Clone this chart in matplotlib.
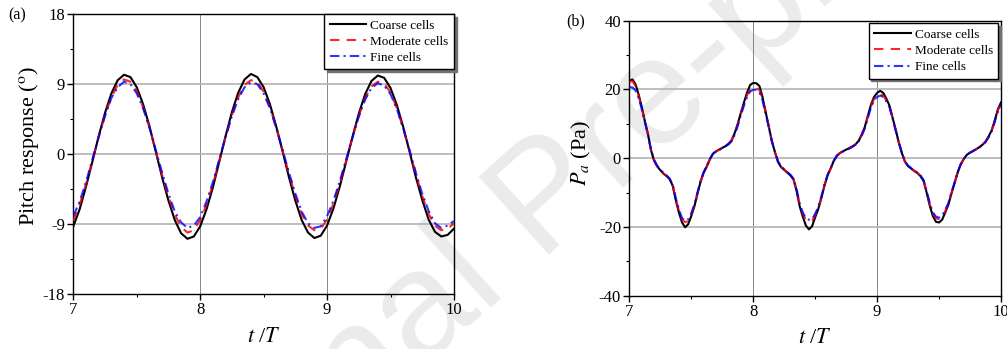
import matplotlib
matplotlib.use("Agg")
import matplotlib.pyplot as plt
import numpy as np

plt.rcParams["font.family"] = ["Liberation Serif", "DejaVu Serif"]
plt.rcParams["mathtext.fontset"] = "stix"
plt.rcParams["axes.unicode_minus"] = False

# (a) pitch response, sampled every 0.05 T from 7 to 10
pitch_coarse = [
    -9.3, -7.1, -4.2, -1.0, 2.3, 5.3, 7.8, 9.5, 10.2, 9.9,
    8.6, 6.4, 3.6, 0.3, -3.0, -6.0, -8.5, -10.2, -10.9, -10.6,
    -9.3, -7.1, -4.3, -1.0, 2.3, 5.4, 7.9, 9.6, 10.3, 9.9,
    8.6, 6.4, 3.5, 0.3, -3.0, -6.0, -8.5, -10.1, -10.8, -10.5,
    -9.2, -7.0, -4.2, -1.0, 2.2, 5.2, 7.7, 9.4, 10.1, 9.8,
    8.5, 6.3, 3.5, 0.3, -3.0, -5.9, -8.4, -10.0, -10.6, -10.4,
    -9.6,
]
pitch_moderate = [
    -8.6, -6.5, -3.9, -0.9, 2.2, 5.0, 7.3, 8.9, 9.6, 9.3,
    8.1, 6.0, 3.4, 0.4, -2.7, -5.5, -7.8, -9.4, -10.1, -9.8,
    -8.5, -6.5, -3.9, -0.9, 2.2, 5.0, 7.3, 8.9, 9.5, 9.3,
    8.0, 6.0, 3.4, 0.4, -2.6, -5.4, -7.7, -9.2, -9.8, -9.6,
    -8.4, -6.4, -3.8, -0.9, 2.1, 4.9, 7.2, 8.7, 9.3, 9.1,
    7.9, 5.9, 3.3, 0.4, -2.6, -5.4, -7.7, -9.2, -9.8, -9.6,
    -8.9,
]
pitch_fine = [
    -8.0, -6.1, -3.6, -0.7, 2.2, 4.9, 7.2, 8.6, 9.3, 9.0,
    7.8, 5.9, 3.4, 0.5, -2.4, -5.1, -7.4, -8.8, -9.5, -9.2,
    -8.1, -6.1, -3.6, -0.7, 2.2, 4.9, 7.1, 8.6, 9.2, 9.0,
    7.8, 5.9, 3.3, 0.5, -2.4, -5.1, -7.4, -8.9, -9.5, -9.3,
    -8.0, -6.0, -3.5, -0.7, 2.1, 4.8, 7.0, 8.5, 9.1, 8.8,
    7.7, 5.8, 3.3, 0.5, -2.4, -5.1, -7.3, -8.9, -9.5, -9.2,
    -8.6,
]

# (b) P_a in Pa, sampled every 0.025 T from 7 to 10
pa_coarse = [
    22.6, 22.9, 21.5, 18.5, 14.9, 10.8, 7.0, 2.3,
    -0.8, -2.4, -3.5, -4.5, -5.2, -6.1, -8.0, -12.3,
    -15.8, -18.7, -20.1, -19.2, -16.8, -14.0, -10.3, -6.8,
    -4.2, -2.4, -0.3, 1.3, 2.0, 2.5, 3.0, 3.5,
    4.2, 5.2, 7.3, 10.0, 13.2, 16.2, 19.1, 21.3,
    21.9, 21.8, 21.0, 17.8, 13.5, 9.3, 5.0, 1.8,
    -1.1, -2.6, -3.4, -4.2, -5.0, -6.2, -9.5, -14.0,
    -17.0, -19.6, -20.7, -19.8, -17.2, -14.8, -11.6, -8.0,
    -5.0, -3.0, -0.8, 0.7, 1.5, 2.0, 2.5, 2.9,
    3.4, 4.0, 5.0, 6.8, 9.0, 12.3, 15.5, 17.8,
    19.0, 19.6, 19.0, 17.3, 15.3, 11.8, 8.3, 4.6,
    1.5, -1.0, -2.3, -3.0, -3.7, -4.3, -5.2, -6.6,
    -10.0, -13.8, -16.8, -18.5, -18.7, -17.9, -15.8, -13.6,
    -10.3, -7.3, -4.2, -1.8, -0.2, 1.0, 1.6, 2.1,
    2.6, 3.2, 3.9, 4.8, 6.3, 8.1, 11.0, 14.2,
    16.2,
]
pa_moderate = [
    22.2, 22.4, 21.0, 18.2, 14.7, 10.7, 6.9, 2.3,
    -0.7, -2.3, -3.4, -4.4, -5.1, -6.0, -8.0, -12.0,
    -15.3, -17.8, -18.6, -18.3, -16.4, -13.8, -10.2, -6.8,
    -4.2, -2.4, -0.3, 1.3, 2.0, 2.5, 3.0, 3.5,
    4.1, 5.1, 7.1, 9.8, 12.9, 15.7, 18.3, 20.0,
    20.5, 20.4, 19.8, 17.2, 13.2, 9.2, 5.0, 1.8,
    -1.0, -2.5, -3.3, -4.1, -4.9, -6.1, -9.3, -13.6,
    -16.2, -18.0, -18.3, -18.2, -16.6, -14.5, -11.4, -7.9,
    -5.0, -3.0, -0.8, 0.7, 1.5, 2.0, 2.5, 2.9,
    3.4, 4.0, 4.9, 6.7, 8.8, 12.0, 15.0, 17.2,
    18.2, 18.6, 18.2, 16.8, 15.0, 11.6, 8.2, 4.6,
    1.5, -1.0, -2.3, -3.0, -3.7, -4.3, -5.1, -6.5,
    -9.8, -13.4, -16.1, -17.5, -17.7, -17.2, -15.4, -13.4,
    -10.2, -7.3, -4.2, -1.8, -0.2, 1.0, 1.6, 2.1,
    2.6, 3.2, 3.9, 4.8, 6.2, 8.0, 10.8, 13.9,
    15.9,
]
pa_fine = [
    20.7, 20.6, 19.7, 17.5, 14.3, 10.5, 6.8, 2.4,
    -0.5, -2.2, -3.3, -4.3, -5.0, -5.9, -7.7, -11.6,
    -14.9, -17.4, -18.2, -17.8, -16.0, -13.4, -9.9, -6.6,
    -4.0, -2.3, -0.3, 1.3, 2.0, 2.4, 2.9, 3.4,
    4.0, 4.9, 6.8, 9.4, 12.5, 15.3, 17.8, 19.4,
    19.9, 19.9, 19.2, 16.8, 13.0, 9.1, 5.0, 1.9,
    -0.9, -2.4, -3.2, -4.0, -4.8, -5.9, -9.0, -13.2,
    -15.8, -17.5, -17.9, -17.7, -16.2, -14.1, -11.1, -7.7,
    -4.9, -2.9, -0.8, 0.7, 1.5, 2.0, 2.4, 2.8,
    3.3, 3.9, 4.8, 6.5, 8.6, 11.7, 14.6, 16.9,
    17.8, 18.2, 17.8, 16.5, 14.8, 11.5, 8.1, 4.6,
    1.6, -0.9, -2.2, -2.9, -3.6, -4.2, -5.0, -6.3,
    -9.5, -13.0, -15.7, -17.0, -17.3, -16.8, -15.0, -13.1,
    -10.0, -7.1, -4.1, -1.8, -0.2, 1.0, 1.6, 2.1,
    2.6, 3.1, 3.8, 4.7, 6.1, 7.8, 10.6, 13.6,
    15.6,
]

labels = ["Coarse cells", "Moderate cells", "Fine cells"]
x_ticks = [7, 8, 9, 10]
pitch_ticks = [-18, -9, 0, 9, 18]
pa_ticks = [-40, -20, 0, 20, 40]


def style_axes(ax, yticks):
    ax.set_facecolor("none")
    ax.set_xlim(7, 10)
    ax.set_ylim(yticks[0], yticks[-1])
    ax.set_xticks(x_ticks)
    ax.set_yticks(yticks)
    ax.set_xticks([7.5, 8.5, 9.5], minor=True)
    step = yticks[1] - yticks[0]
    ax.set_yticks([v + step / 2 for v in yticks[:-1]], minor=True)
    ax.tick_params(which="major", direction="out", length=4, width=1, labelsize=12, pad=2)
    ax.tick_params(which="minor", direction="out", length=2.5, width=0.8)
    for s in ax.spines.values():
        s.set_linewidth(1.0)
    for v in x_ticks[1:-1]:
        ax.axvline(v, color="0.45", lw=0.6, zorder=0.5)
    for v in yticks[1:-1]:
        ax.axhline(v, color="0.7", lw=1.2, zorder=0.5)


def draw_series(ax, series):
    coarse, moderate, fine = series
    ax.plot(np.linspace(7, 10, len(coarse)), coarse, color="black", lw=1.5,
            label=labels[0], zorder=3)
    ax.plot(np.linspace(7, 10, len(moderate)), moderate, color="red", lw=1.5,
            dashes=(4.5, 3.5), alpha=0.85, label=labels[1], zorder=4)
    ax.plot(np.linspace(7, 10, len(fine)), fine, color="blue", lw=1.5,
            dashes=(4.5, 2, 1, 2), alpha=0.8, label=labels[2], zorder=5)


fig = plt.figure(figsize=(10.07, 3.49), dpi=100)

# faint diagonal watermark sitting behind both panels
fig.text(0.545, 0.42, "Journal Pre-proof", rotation=42, fontsize=110,
         color="#ebebeb", ha="center", va="center", family="Liberation Sans",
         zorder=-1)

ax1 = fig.add_axes([0.0728, 0.1576, 0.378, 0.802])
ax2 = fig.add_axes([0.625, 0.1527, 0.369, 0.788])

draw_series(ax1, (pitch_coarse, pitch_moderate, pitch_fine))
draw_series(ax2, (pa_coarse, pa_moderate, pa_fine))
style_axes(ax1, pitch_ticks)
style_axes(ax2, pa_ticks)

ax1.set_ylabel(r"Pitch response ($^{\rm o}$)", fontsize=16)
ax1.yaxis.set_label_coords(-0.085, 0.53)
ax2.set_ylabel(r"$P_a$ (Pa)", fontsize=16)
ax2.yaxis.set_label_coords(-0.098, 0.52)
for ax in (ax1, ax2):
    ax.set_xlabel(r"$t$ /$T$", fontsize=16)
    ax.xaxis.set_label_coords(0.5, -0.12)

leg_kw = dict(fontsize=9.5, frameon=True, fancybox=False, framealpha=1,
              edgecolor="black", handlelength=2.8, handletextpad=0.3,
              borderpad=0.4, labelspacing=0.3,
              shadow={"color": "0.45", "alpha": 1})
l1 = ax1.legend(loc="upper right", borderaxespad=0, **leg_kw)
l2 = ax2.legend(loc="upper right", borderaxespad=0.2, **leg_kw)
for leg in (l1, l2):
    leg.get_frame().set_linewidth(1.0)

fig.text(0.0175, 0.957, "(a)", fontsize=11.5, ha="center", va="center")
fig.text(0.572, 0.94, "(b)", fontsize=11.5, ha="center", va="center")

fig.savefig("out.png", dpi=100)
